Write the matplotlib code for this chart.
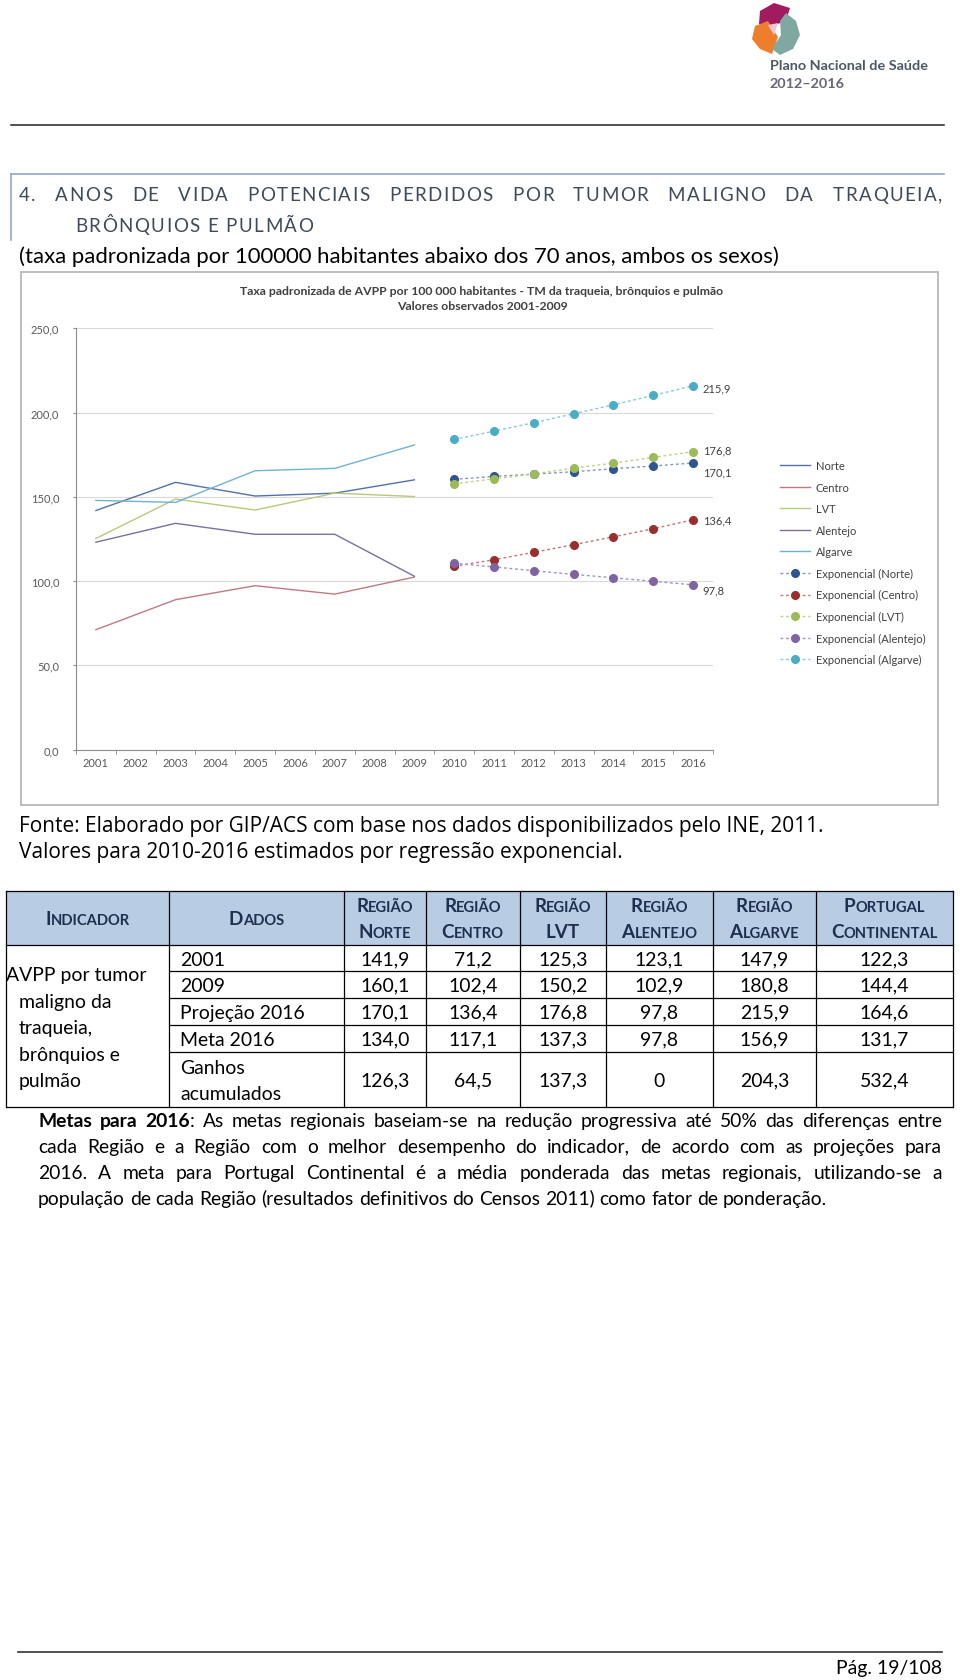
import math
import matplotlib
matplotlib.use("Agg")
import matplotlib.pyplot as plt
from matplotlib.patches import Rectangle, Polygon
from matplotlib.lines import Line2D
from matplotlib.backends.backend_agg import get_hinting_flag

plt.rcParams["font.family"] = ["Lato", "DejaVu Sans"]

# observed values 2001-2009 (only odd years are plotted in the source chart)
years_obs = [2001, 2003, 2005, 2007, 2009]
norte_obs = [141.9, 158.6, 150.5, 152.2, 160.1]
centro_obs = [71.2, 89.0, 97.3, 92.3, 102.4]
lvt_obs = [125.3, 148.7, 142.2, 152.2, 150.2]
alentejo_obs = [123.1, 134.3, 127.8, 127.8, 102.9]
algarve_obs = [147.9, 146.7, 165.5, 166.9, 180.8]

# exponential projections 2010-2016
years_proj = [2010, 2011, 2012, 2013, 2014, 2015, 2016]
norte_proj = [160.4, 162.1, 163.5, 164.9, 166.7, 168.3, 170.1]
centro_proj = [108.8, 112.7, 117.1, 121.6, 126.3, 131.1, 136.4]
lvt_proj = [157.8, 160.7, 163.5, 167.1, 170.0, 173.4, 176.8]
alentejo_proj = [110.6, 108.4, 106.2, 104.0, 102.0, 99.9, 97.8]
algarve_proj = [184.1, 189.0, 194.0, 199.3, 204.6, 210.2, 215.9]

regions = ["Norte", "Centro", "LVT", "Alentejo", "Algarve"]
all_years = list(range(2001, 2017))
y_ticks = [0, 50, 100, 150, 200, 250]

# table
tab_header = [["Indicador"], ["Dados"], ["Região", "Norte"], ["Região", "Centro"],
              ["Região", "LVT"], ["Região", "Alentejo"], ["Região", "Algarve"],
              ["Portugal", "Continental"]]
tab_rows = ["2001", "2009", "Projeção 2016", "Meta 2016", "Ganhos\nacumulados"]
tab_norte = ["141,9", "160,1", "170,1", "134,0", "126,3"]
tab_centro = ["71,2", "102,4", "136,4", "117,1", "64,5"]
tab_lvt = ["125,3", "150,2", "176,8", "137,3", "137,3"]
tab_alentejo = ["123,1", "102,9", "97,8", "97,8", "0"]
tab_algarve = ["147,9", "180,8", "215,9", "156,9", "204,3"]
tab_portugal = ["122,3", "144,4", "164,6", "131,7", "532,4"]
tab_indicador = ["AVPP por tumor", "maligno da", "traqueia,", "brônquios e", "pulmão"]

# ---------------- page ----------------
fig = plt.figure(figsize=(9.6, 16.81), dpi=100)
pg = fig.add_axes([0, 0, 1, 1])
pg.set_xlim(0, 960)
pg.set_ylim(1681, 0)
pg.axis("off")
rend = fig.canvas.get_renderer()


def tw(s, **kw):
    t = pg.text(0, 0, s, **kw)
    w = t.get_window_extent(renderer=rend).width
    t.remove()
    return w


def btext(x, y, s, **kw):
    # baseline-aligned text; nudges by the pixel that Agg rounding can add
    y = round(y)
    t = pg.text(x, y, s, va="baseline", **kw)
    try:
        font = rend._prepare_font(t.get_fontproperties())
        font.set_text(s, 0, flags=get_hinting_flag())
        w, h = font.get_width_height()
        d = font.get_descent()
        e = round(y + d / 64.0) - y - (h // 64) + math.floor((h - d) / 64.0)
        t.set_y(y - e)
    except Exception:
        pass
    return t


def seg_w(segs, fs, track=0):
    w = 0
    for s, wt in segs:
        if track:
            w += sum(tw(c, fontsize=fs, weight=wt) + track for c in s) - track
        else:
            w += tw(s, fontsize=fs, weight=wt)
    return w


def draw_segs(x, y, segs, fs, color, track=0):
    for s, wt in segs:
        if track:
            for c in s:
                btext(x, y, c, fontsize=fs, weight=wt, color=color, ha="left")
                x += tw(c, fontsize=fs, weight=wt) + track
        else:
            btext(x, y, s, fontsize=fs, weight=wt, color=color, ha="left")
            x += tw(s, fontsize=fs, weight=wt)
    return x


def line_out(tokens, x0, x1, y, fs, color, track=0, justify=True):
    ws = [seg_w(t, fs, track) for t in tokens]
    if justify and len(tokens) > 1:
        gap = (x1 - x0 - sum(ws)) / (len(tokens) - 1)
    else:
        gap = tw("a a", fontsize=fs) - tw("aa", fontsize=fs) + 2 * track
    x = x0
    for t, w in zip(tokens, ws):
        draw_segs(x, y, t, fs, color, track)
        x += w + gap


def toks(s, wt="normal"):
    return [[(w, wt)] for w in s.split()]


# logo
pg.add_patch(Polygon([(760, 12), (774, 4), (790, 9), (786, 22), (772, 27), (759, 25)],
                     closed=True, fc="#A21A5F", ec="none"))
pg.add_patch(Polygon([(755, 27), (768, 22), (778, 38), (772, 55), (760, 50), (752, 40)],
                     closed=True, fc="#EE7D2C", ec="none"))
pg.add_patch(Polygon([(786, 14), (796, 22), (800, 36), (793, 50), (780, 56), (772, 50),
                      (781, 36), (780, 22)], closed=True, fc="#7FA8A2", ec="none"))
pg.add_patch(Polygon([(768, 26), (778, 24), (774, 36)], closed=True, fc="#F2C7D4", ec="none"))
fs_logo = 10 * 158 / tw("Plano Nacional de Saúde", fontsize=10, weight="bold")
pg.text(770, 66, "Plano Nacional de Saúde", fontsize=fs_logo, weight="bold",
        color="#4B5866", ha="left", va="center")
pg.text(770, 84, "2012–2016", fontsize=fs_logo, weight="bold", color="#6A6478",
        ha="left", va="center")

# header rule
pg.plot([11, 944], [125.5, 125.5], color="#222222", lw=1.1)

# section heading box
pg.plot([11, 944], [175, 175], color="#8EA8C8", lw=1.2)
pg.plot([11, 11], [175, 241], color="#8EA8C8", lw=1.2)

hd_col = "#3E4A58"
fs_hd = 13.5
l2 = "BRÔNQUIOS E PULMÃO"
chars = l2.replace(" ", "")
raw = sum(tw(c, fontsize=fs_hd) for c in chars) + 2 * (tw("a a", fontsize=fs_hd) - tw("aa", fontsize=fs_hd))
track = (238 - raw) / (len(l2) - 1)
line_out(toks("4. ANOS DE VIDA POTENCIAIS PERDIDOS POR TUMOR MALIGNO DA TRAQUEIA,"),
         19, 942, 201, fs_hd, hd_col, track=track)
line_out(toks(l2), 75, 320, 232, fs_hd, hd_col, track=track, justify=False)

sub = "(taxa padronizada por 100000 habitantes abaixo dos 70 anos, ambos os sexos)"
fs_sub = 10 * 761 / tw(sub, fontsize=10)
pg.text(19, 257, sub, fontsize=fs_sub, color="black", ha="left", va="center")

# chart frame
pg.add_patch(Rectangle((21, 273), 917, 533, fill=False, ec="#BDBDBD", lw=1.4))
t1 = "Taxa padronizada de AVPP por 100 000 habitantes - TM da traqueia, brônquios e pulmão"
fs_t = 10 * 486 / tw(t1, fontsize=10, weight="bold")
pg.text(482, 291.5, t1, fontsize=fs_t, weight="bold", color="#404040", ha="center", va="center")
pg.text(482, 306, "Valores observados 2001-2009", fontsize=fs_t, weight="bold",
        color="#404040", ha="center", va="center")

# source lines
f1 = "Fonte: Elaborado por GIP/ACS com base nos dados disponibilizados pelo INE, 2011."
fam_src = ["Open Sans", "DejaVu Sans"]
fs_src = 10 * 805 / tw(f1, fontsize=10, family=fam_src)
pg.text(19, 827, f1, fontsize=fs_src, family=fam_src, ha="left", va="center")
pg.text(19, 853, "Valores para 2010-2016 estimados por regressão exponencial.", fontsize=fs_src,
        family=fam_src, ha="left", va="center")

# ---------------- chart ----------------
ax = fig.add_axes([76 / 960, 1 - 750.7 / 1681, (713 - 76) / 960, (750.7 - 329.3) / 1681])
ax.set_xlim(2000.5, 2016.5)
ax.set_ylim(0, 250)
ax.patch.set_alpha(0)

obs = [norte_obs, centro_obs, lvt_obs, alentejo_obs, algarve_obs]
proj = [norte_proj, centro_proj, lvt_proj, alentejo_proj, algarve_proj]
line_cols = ["#5470A8", "#BF7A80", "#B7CA7C", "#7C6FA0", "#70B2D0"]
mark_cols = ["#2F5492", "#9A2E2E", "#9BBB59", "#8064A2", "#4BACC6"]
dash_cols = ["#8096C2", "#C47474", "#BCD08A", "#A48FC4", "#86C6DA"]
lab_dy = [-6.3, 0, 1.4, -3.7, -1.4]

for i, reg in enumerate(regions):
    ax.plot(years_obs, obs[i], color=line_cols[i], lw=1.0)
for i, reg in enumerate(regions):
    ax.plot(years_proj, proj[i], ls=(0, (2, 2)), color=dash_cols[i], lw=1.0,
            marker="o", ms=5.5, mfc=mark_cols[i], mec=mark_cols[i])
    v = proj[i][-1]
    ax.annotate(f"{v:.1f}".replace(".", ","), xy=(years_proj[-1], v), xytext=(7, lab_dy[i]),
                textcoords="offset points", ha="left", va="center", fontsize=8,
                color="#404040", annotation_clip=False)

ax.set_yticks(y_ticks)
ax.set_yticklabels([f"{v:.1f}".replace(".", ",") for v in y_ticks])
ax.set_xticks(all_years)
ax.set_xticklabels([str(y) for y in all_years])
ax.set_xticks([y + 0.5 for y in [2000] + all_years], minor=True)
ax.yaxis.grid(True, color="#D9D9D9", lw=0.8)
ax.set_axisbelow(True)
for s in ["top", "right"]:
    ax.spines[s].set_visible(False)
for s in ["left", "bottom"]:
    ax.spines[s].set_color("#8C8C8C")
    ax.spines[s].set_linewidth(0.8)
ax.tick_params(axis="y", length=2, color="#8C8C8C", pad=10, labelsize=8, labelcolor="#595959")
ax.tick_params(axis="x", which="major", length=0, pad=5, labelsize=8, labelcolor="#595959")
ax.tick_params(axis="x", which="minor", length=3, color="#8C8C8C")

handles = [Line2D([], [], color=c, lw=1.0) for c in line_cols]
handles += [Line2D([], [], ls=(0, (2, 2)), color=dash_cols[i], lw=1.0, marker="o", ms=5.5,
                   mfc=mark_cols[i], mec=mark_cols[i]) for i in range(5)]
labels = regions + [f"Exponencial ({r})" for r in regions]
ax.legend(handles, labels, loc="upper left", bbox_to_anchor=(780 / 960, 1 - 461 / 1681),
          bbox_transform=fig.transFigure, frameon=False, fontsize=8, handlelength=2.7,
          handletextpad=0.5, labelspacing=0.95, borderpad=0, borderaxespad=0,
          labelcolor="#404040")

# ---------------- table ----------------
col_x = [6, 169, 344, 426, 520, 606, 713, 816, 953]
row_y = [892, 946, 972, 999, 1026, 1053, 1108]
pg.add_patch(Rectangle((col_x[0], row_y[0]), col_x[-1] - col_x[0], row_y[1] - row_y[0],
                       fc="#B8CCE4", ec="none"))
tl = dict(color="black", lw=0.9)
pg.plot([col_x[0], col_x[-1]], [row_y[0]] * 2, **tl)
pg.plot([col_x[0], col_x[-1]], [row_y[1]] * 2, **tl)
pg.plot([col_x[0], col_x[-1]], [row_y[-1]] * 2, **tl)
for y in row_y[2:-1]:
    pg.plot([col_x[1], col_x[-1]], [y, y], **tl)
for x in col_x:
    pg.plot([x, x], [row_y[0], row_y[-1]], **tl)

hdr_col = "#1F2F4F"
k_sc = 107 / (tw("C", fontsize=10, weight="bold") + tw("ONTINENTAL", fontsize=7.8, weight="bold"))
big, small = 10 * k_sc, 7.8 * k_sc


def smallcaps(xc, yb, word):
    if word.isupper():
        pieces = [(word, big)]
    else:
        pieces = [(word[0], big), (word[1:].upper(), small)]
    total = sum(tw(s, fontsize=f, weight="bold") for s, f in pieces)
    x = xc - total / 2
    for s, f in pieces:
        btext(x, yb, s, fontsize=f, weight="bold", color=hdr_col, ha="left")
        x += tw(s, fontsize=f, weight="bold")


for j, words in enumerate(tab_header):
    xc = (col_x[j] + col_x[j + 1]) / 2
    if len(words) == 1:
        smallcaps(xc, 925, words[0])
    else:
        smallcaps(xc, 912, words[0])
        smallcaps(xc, 938, words[1])

fs_tab = 10 * 125 / tw("Projeção 2016", fontsize=10)
cap = 0.36 * fs_tab * 100 / 72  # half cap height in px
cols_vals = [tab_norte, tab_centro, tab_lvt, tab_alentejo, tab_algarve, tab_portugal]
for i, lab in enumerate(tab_rows):
    yc = (row_y[i + 1] + row_y[i + 2]) / 2 + cap
    if "\n" in lab:
        a, b = lab.split("\n")
        btext(180, yc - 13, a, fontsize=fs_tab, ha="left")
        btext(180, yc + 13, b, fontsize=fs_tab, ha="left")
    else:
        btext(180, yc, lab, fontsize=fs_tab, ha="left")
    for j, vals in enumerate(cols_vals):
        xc = (col_x[j + 2] + col_x[j + 3]) / 2
        btext(xc, yc, vals[i], fontsize=fs_tab, ha="center")

ind_y = [974, 1001, 1027.5, 1054, 1080]
ind_x = [6, 19, 19, 19, 19]
for t, x, y in zip(tab_indicador, ind_x, ind_y):
    btext(x, y + cap, t, fontsize=fs_tab, ha="left")

# paragraph
par = [
    [[("Metas", "bold")], [("para", "bold")], [("2016", "bold"), (":", "normal")]]
    + toks("As metas regionais baseiam-se na redução progressiva até 50% das diferenças entre"),
    toks("cada Região e a Região com o melhor desempenho do indicador, de acordo com as projeções para"),
    toks("2016. A meta para Portugal Continental é a média ponderada das metas regionais, utilizando-se a"),
    toks("população de cada Região (resultados definitivos do Censos 2011) como fator de ponderação."),
]
last = "população de cada Região (resultados definitivos do Censos 2011) como fator de ponderação."
fs_par = 10 * 793 / tw(last, fontsize=10)
par_y = [1127, 1153, 1179, 1205]
for k, (tk, y) in enumerate(zip(par, par_y)):
    line_out(tk, 38, 942, y, fs_par, "black", justify=(k < 3))

# footer
pg.plot([18, 942], [1652.5, 1652.5], color="#444444", lw=1.3)
pag = "Pág. 19/108"
fs_pag = 10 * 105 / tw(pag, fontsize=10)
pg.text(942, 1669, pag, fontsize=fs_pag, ha="right", va="center")

fig.savefig("out.png", dpi=100)
